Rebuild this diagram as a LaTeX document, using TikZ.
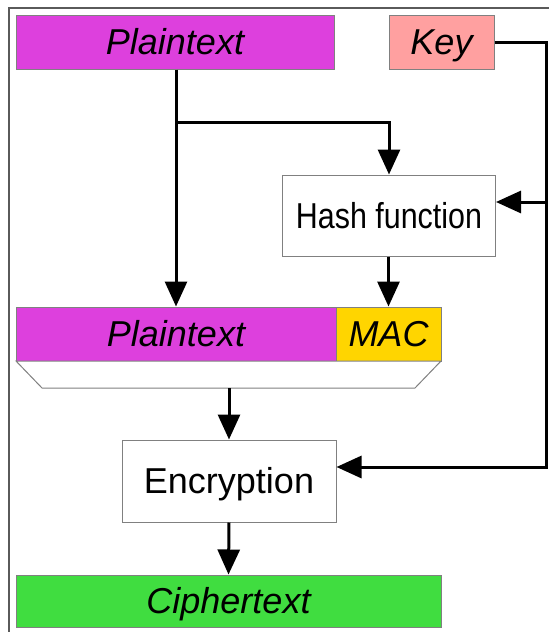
\documentclass[tikz,border=0pt]{standalone}
\usepackage{fontspec}
\usepackage{graphicx}
\setmainfont{Liberation Sans}
\usetikzlibrary{arrows.meta}

\definecolor{plainfill}{RGB}{221,64,221}
\definecolor{keyfill}{RGB}{255,160,160}
\definecolor{macfill}{RGB}{255,213,0}
\definecolor{cipherfill}{RGB}{64,221,64}
\definecolor{boxline}{RGB}{128,128,128}
\definecolor{framegray}{RGB}{90,90,90}

\tikzset{
  field/.style={draw=boxline, line width=1pt, rectangle, inner sep=0pt,
    font=\fontsize{36}{43}\selectfont, text height=25.8pt, text depth=0pt},
  procbox/.style={field, fill=white},
  flow/.style={line width=3pt, -{Triangle[length=25pt,width=22pt]}},
  wire/.style={line width=3pt},
}

\begin{document}
\begin{tikzpicture}[x=1pt,y=-1pt]
  \useasboundingbox (0,0) rectangle (549,632);

  % partial outer frame
  \draw[framegray, line width=2pt] (9,632) -- (9,8) -- (549,8);

  % inputs
  \node[field, fill=plainfill, minimum width=318pt, minimum height=54pt] (pt) at (175,42) {\itshape Plaintext};
  \node[field, fill=keyfill, minimum width=105pt, minimum height=54pt] (key) at (441.5,42) {\itshape Key};

  % MAC computation
  \node[procbox, minimum width=213pt, minimum height=81pt] (hash) at (389,215.5) {\scalebox{0.845}[1]{Hash function}};

  % plaintext with appended MAC
  \node[field, fill=plainfill, minimum width=320pt, minimum height=54pt] (pt2) at (176,334) {\itshape Plaintext};
  \node[field, fill=macfill, minimum width=105pt, minimum height=54pt] (mac) at (388.5,334) {\itshape MAC};

  % funnel under the combined message
  \draw[boxline, line width=1pt, fill=white] (16,361) -- (441,361) -- (415,388) -- (42,388) -- cycle;
  \coordinate (funnel) at (229,388);

  % encryption and output
  \node[procbox, minimum width=214pt, minimum height=82pt] (enc) at (229,481) {Encryption};
  \node[field, fill=cipherfill, minimum width=425pt, minimum height=52pt] (ct) at (228.5,601) {\itshape Ciphertext};

  % plaintext paths
  \draw[flow] (pt2.north |- pt.south) -- (pt2.north);
  \coordinate (split) at (pt2.north |- 0,122);
  \draw[flow] (split) -| (hash.north);
  \draw[flow] (mac.north |- hash.south) -- (mac.north);

  % key distribution
  \coordinate (kturn) at (546.5,467);
  \coordinate (ktap) at (546.5,202);
  \draw[flow] (key.east) -| (kturn) -- (enc.east |- kturn);
  \draw[flow] (ktap) -- (hash.east |- ktap);

  % encryption chain
  \draw[flow] (funnel) -- (enc.north);
  \draw[flow] (enc.south) -- (ct.north);
\end{tikzpicture}
\end{document}
